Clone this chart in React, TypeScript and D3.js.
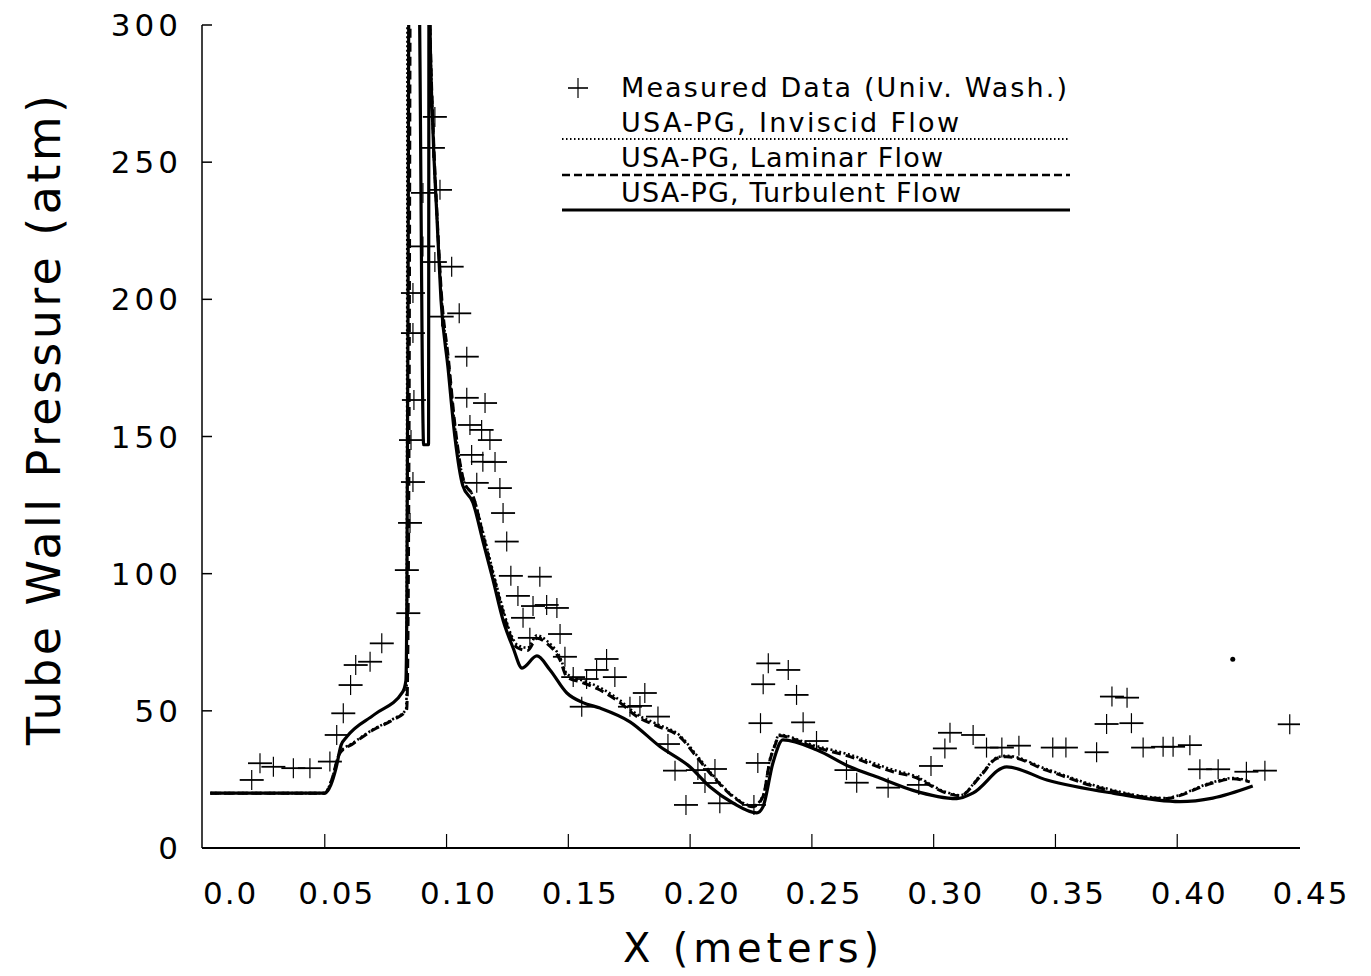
import React from 'react';
import * as d3 from 'd3';

const W = 1371;
const H = 976;

const xTicks = [0, 0.05, 0.1, 0.15, 0.2, 0.25, 0.3, 0.35, 0.4, 0.45];
const xTickLabels = ['0.0', '0.05', '0.10', '0.15', '0.20', '0.25', '0.30', '0.35', '0.40', '0.45'];
const yTicks = [0, 50, 100, 150, 200, 250, 300];
const yTickLabels = ['0', '50', '100', '150', '200', '250', '300'];

const xTitle = 'X (meters)';
const yTitle = 'Tube Wall Pressure  (atm)';

const legendLabels = [
  'Measured Data (Univ. Wash.)',
  'USA-PG, Inviscid Flow',
  'USA-PG, Laminar Flow',
  'USA-PG, Turbulent Flow',
];

// Measured data (Univ. Wash.) : [x (m), pressure (atm)]
const measured: [number, number][] = [
  [0.02, 24.8], [0.0234, 30.9], [0.0289, 29.6], [0.0371, 29.1], [0.0439, 29.1],
  [0.0521, 31.5], [0.0549, 41.2], [0.0576, 49.1], [0.0606, 59.4], [0.0627, 66.7],
  [0.0686, 67.9], [0.0734, 74.6], [0.0843, 85.6],
  [0.0837, 101.3], [0.085, 118.5], [0.0862, 133.4], [0.0854, 148.7], [0.0866, 163.3],
  [0.0862, 187.7], [0.0862, 202.3], [0.0903, 219.3], [0.0903, 238.8], [0.0952, 213.6],
  [0.0973, 239.9], [0.0944, 255.2], [0.0952, 266.5], [0.098, 193.7], [0.1021, 211.9],
  [0.1052, 194.9], [0.1083, 179.1], [0.1083, 164.1], [0.1158, 162.2], [0.1096, 154.2],
  [0.1144, 152.4], [0.1178, 148.7], [0.1103, 143.3], [0.1149, 140.8], [0.1199, 140.7],
  [0.1124, 133.1], [0.1219, 131.2], [0.1232, 122.1], [0.1247, 111.7],
  [0.1264, 99.2], [0.1383, 98.9], [0.1293, 91.9], [0.1314, 83.9], [0.1355, 88.2],
  [0.1411, 88.6], [0.1453, 87.5], [0.1466, 78.0], [0.1342, 76.6], [0.1486, 69.7],
  [0.1657, 68.9], [0.1616, 64.9], [0.152, 62.3], [0.1575, 61.6], [0.1691, 62.3],
  [0.1814, 56.5], [0.1555, 51.5], [0.1753, 51.5], [0.1868, 47.9], [0.1794, 51.8],
  [0.1909, 37.9], [0.1938, 28.2], [0.1983, 15.7], [0.2032, 28.4], [0.2061, 23.7],
  [0.2102, 28.8], [0.2122, 16.3], [0.2262, 15.7], [0.2278, 31.0], [0.2289, 45.5],
  [0.23, 59.7], [0.2321, 67.3], [0.2403, 64.9], [0.2437, 55.8], [0.2464, 45.8],
  [0.2519, 39.0], [0.2642, 28.4], [0.2684, 23.8], [0.2813, 22.0],
  [0.2939, 23.0], [0.2989, 29.9], [0.3046, 36.3], [0.3067, 42.0], [0.3162, 41.2],
  [0.3217, 36.6], [0.328, 36.6], [0.335, 37.3], [0.3489, 36.6], [0.3543, 36.6],
  [0.3669, 34.9], [0.371, 45.2], [0.3732, 55.2], [0.3794, 54.8], [0.3812, 45.5],
  [0.386, 36.6], [0.3942, 36.9], [0.3983, 36.9], [0.4052, 37.5], [0.4093, 28.7],
  [0.4168, 28.7], [0.4284, 27.8], [0.436, 28.2], [0.4462, 45.1],
];

const strayDots: [number, number][] = [[0.4228, 68.8]];

// USA-PG, Inviscid Flow
const inviscid: [number, number][] = [
  [0.003, 20], [0.05, 20], [0.0525, 24], [0.0562, 34.8], [0.0616, 38.3], [0.0698, 43.2],
  [0.078, 47], [0.0834, 50.5], [0.0836, 58], [0.0838, 150], [0.0840, 330], [0.0926, 330],
  [0.0932, 300], [0.0946, 258], [0.0962, 228], [0.0979, 201], [0.1008, 177], [0.1036, 152],
  [0.107, 134], [0.111, 128], [0.115, 115], [0.119, 101], [0.1232, 87], [0.1264, 78],
  [0.1291, 74], [0.1333, 73], [0.1371, 77.5], [0.1412, 75.5], [0.1466, 69.5], [0.1494, 63.5],
  [0.156, 61], [0.163, 58.5], [0.1712, 53.8], [0.178, 48.8], [0.1864, 45.2], [0.1958, 41],
  [0.2027, 33.8], [0.2094, 26.5], [0.2176, 19], [0.2258, 15.3], [0.2299, 19], [0.2328, 32.5],
  [0.2356, 39.8], [0.2361, 41.3], [0.2504, 37.5], [0.2656, 34], [0.2833, 28.5], [0.2915, 26.5],
  [0.3054, 20.3], [0.3108, 19.2], [0.319, 26.3], [0.326, 33], [0.33, 33.6], [0.3465, 28.7],
  [0.367, 22.6], [0.3957, 18.2], [0.3981, 18.6], [0.4146, 24], [0.4228, 25.5], [0.4298, 24.4],
];

// USA-PG, Laminar Flow
const laminar: [number, number][] = [
  [0.003, 20], [0.05, 20], [0.0525, 24], [0.0562, 34.6], [0.0616, 38], [0.0698, 43],
  [0.078, 46.7], [0.0836, 50.3], [0.0839, 57], [0.0846, 150], [0.0852, 330], [0.0926, 330],
  [0.0932, 300], [0.0946, 260], [0.0962, 229], [0.0979, 202], [0.1008, 178], [0.1036, 153],
  [0.107, 134], [0.111, 128], [0.115, 114], [0.119, 100], [0.1232, 86], [0.1264, 77],
  [0.1291, 73], [0.1333, 72], [0.1371, 76.5], [0.1412, 74.6], [0.1466, 68.5], [0.1494, 62.4],
  [0.156, 60.2], [0.163, 57.6], [0.1712, 53], [0.178, 48], [0.1864, 44.5], [0.1958, 40.5],
  [0.2027, 33.2], [0.2094, 26], [0.2176, 18.7], [0.2258, 15], [0.2299, 18.7], [0.2328, 32],
  [0.2356, 39.4], [0.2361, 41], [0.2504, 37], [0.2656, 33.3], [0.2833, 27.8], [0.2915, 26],
  [0.3054, 20], [0.3108, 19], [0.319, 26], [0.326, 32.7], [0.33, 33.3], [0.3465, 28.3],
  [0.367, 22.2], [0.3957, 18], [0.3981, 18.4], [0.4146, 23.7], [0.4228, 25.2], [0.4298, 24.1],
];

// USA-PG, Turbulent Flow
const turbulent: [number, number][] = [
  [0.003, 20], [0.05, 20], [0.0525, 23], [0.0546, 29], [0.0567, 37.5], [0.059, 40.5],
  [0.0706, 48.8], [0.082, 56.9], [0.0833, 61], [0.0837, 90], [0.0842, 200], [0.0846, 330],
  [0.0884, 330], [0.0906, 147], [0.0926, 147], [0.0928, 330], [0.0932, 300], [0.0944, 262],
  [0.0961, 229], [0.0977, 200], [0.1006, 175], [0.1034, 150], [0.1067, 132], [0.1108, 126],
  [0.1149, 112], [0.119, 98], [0.1232, 83], [0.1273, 73], [0.131, 65.6], [0.1371, 70],
  [0.1424, 65], [0.1494, 56.5], [0.156, 53], [0.163, 51], [0.1753, 46], [0.1876, 37],
  [0.1999, 29.6], [0.2081, 22.3], [0.2176, 16.4], [0.2274, 12.8], [0.2299, 15], [0.234, 31],
  [0.2381, 39.4], [0.2521, 35.7], [0.2656, 29.6], [0.2779, 25.5], [0.2915, 21], [0.3095, 18],
  [0.3161, 20], [0.33, 29.6], [0.3465, 24.8], [0.3736, 20], [0.4011, 16.9], [0.4146, 18.2],
  [0.431, 22.6],
];

const FONT = '"DejaVu Sans", sans-serif';

export default function App() {
  const left = 202;
  const right = 1300;
  const top = 25;
  const bottom = 848;
  const x = d3.scaleLinear().domain([0, 0.45]).range([203, 1299]);
  const y = d3.scaleLinear().domain([0, 300]).range([bottom, top]);
  const line = d3
    .line<[number, number]>()
    .x((d) => x(d[0]))
    .y((d) => y(d[1]))
    .curve(d3.curveMonotoneX);

  const cross = (cx: number, cy: number, k: string | number, hw = 12, vh = 10, sw = 1.8) => (
    <g key={k}>
      <line x1={cx - hw} x2={cx + hw} y1={cy} y2={cy} stroke="#000" strokeWidth={sw} />
      <line x1={cx} x2={cx} y1={cy - vh} y2={cy + vh} stroke="#000" strokeWidth={1.2} />
    </g>
  );

  const legendLineY = [139, 175, 210];
  const legendTextY = [97, 132, 167, 202];

  return (
    <svg
      width={W}
      height={H}
      viewBox={`0 0 ${W} ${H}`}
      style={{ position: 'absolute', left: 0, top: 0, background: '#fff' }}
      fontFamily={FONT}
    >
      <defs>
        <clipPath id="plotClip">
          <rect x={left} y={top} width={right - left} height={bottom - top} />
        </clipPath>
      </defs>
      <rect x={0} y={0} width={W} height={H} fill="#fff" />

      {/* axes */}
      <line x1={left} x2={left} y1={top} y2={bottom} stroke="#000" strokeWidth={1.5} />
      <line x1={left} x2={right} y1={bottom} y2={bottom} stroke="#000" strokeWidth={2} />
      {yTicks.map((t, i) => (
        <g key={'yt' + i}>
          <line x1={left} x2={left + 10} y1={y(t)} y2={y(t)} stroke="#000" strokeWidth={1.5} />
          <text
            x={182}
            y={y(t)}
            dy="0.36em"
            textAnchor="end"
            fontSize={31}
            letterSpacing={4}
            fill="#000"
          >
            {yTickLabels[i]}
          </text>
        </g>
      ))}
      {xTicks.map((t, i) => (
        <g key={'xt' + i}>
          {i > 0 && i < xTicks.length - 1 && (
            <line x1={x(t)} x2={x(t)} y1={bottom} y2={bottom - 14} stroke="#000" strokeWidth={1.2} />
          )}
          <text
            x={i === 0 ? x(t) : x(t) + 12}
            y={904}
            textAnchor={i === 0 ? 'start' : 'middle'}
            fontSize={31}
            letterSpacing={2}
            fill="#000"
          >
            {xTickLabels[i]}
          </text>
        </g>
      ))}
      <text x={751} y={962} textAnchor="middle" fontSize={40} textLength={256} lengthAdjust="spacing" fill="#000">
        {xTitle}
      </text>
      <text
        transform={`translate(60, 420) rotate(-90)`}
        textAnchor="middle"
        fontSize={46}
        textLength={650}
        lengthAdjust="spacing"
        fill="#000"
      >
        {yTitle}
      </text>

      {/* curves */}
      <g clipPath="url(#plotClip)" fill="none" stroke="#000">
        <path d={line(inviscid) || ''} strokeWidth={2.6} strokeDasharray="2,2.5" />
        <path d={line(laminar) || ''} strokeWidth={3} strokeDasharray="9,5" />
        <path d={line(turbulent) || ''} strokeWidth={3.2} strokeLinejoin="round" />
      </g>

      {/* measured data */}
      <g clipPath="url(#plotClip)">
        {measured.map((d, i) => cross(x(d[0]), y(d[1]), 'm' + i))}
        {strayDots.map((d, i) => (
          <circle key={'s' + i} cx={x(d[0])} cy={y(d[1])} r={2.5} fill="#000" />
        ))}
      </g>

      {/* legend */}
      {cross(578, 88, 'leg', 10, 10, 1.6)}
      <text x={621} y={legendTextY[0]} fontSize={27} textLength={446} lengthAdjust="spacing" fill="#000">
        {legendLabels[0]}
      </text>
      <text x={621} y={legendTextY[1]} fontSize={27} textLength={338} lengthAdjust="spacing" fill="#000">
        {legendLabels[1]}
      </text>
      <text x={621} y={legendTextY[2]} fontSize={27} textLength={322} lengthAdjust="spacing" fill="#000">
        {legendLabels[2]}
      </text>
      <text x={621} y={legendTextY[3]} fontSize={27} textLength={340} lengthAdjust="spacing" fill="#000">
        {legendLabels[3]}
      </text>
      <line x1={562} x2={1070} y1={legendLineY[0]} y2={legendLineY[0]} stroke="#000" strokeWidth={2} strokeDasharray="1.5,2.5" />
      <line x1={562} x2={1070} y1={legendLineY[1]} y2={legendLineY[1]} stroke="#000" strokeWidth={2.5} strokeDasharray="8,4" />
      <line x1={562} x2={1070} y1={legendLineY[2]} y2={legendLineY[2]} stroke="#000" strokeWidth={3} />
    </svg>
  );
}
